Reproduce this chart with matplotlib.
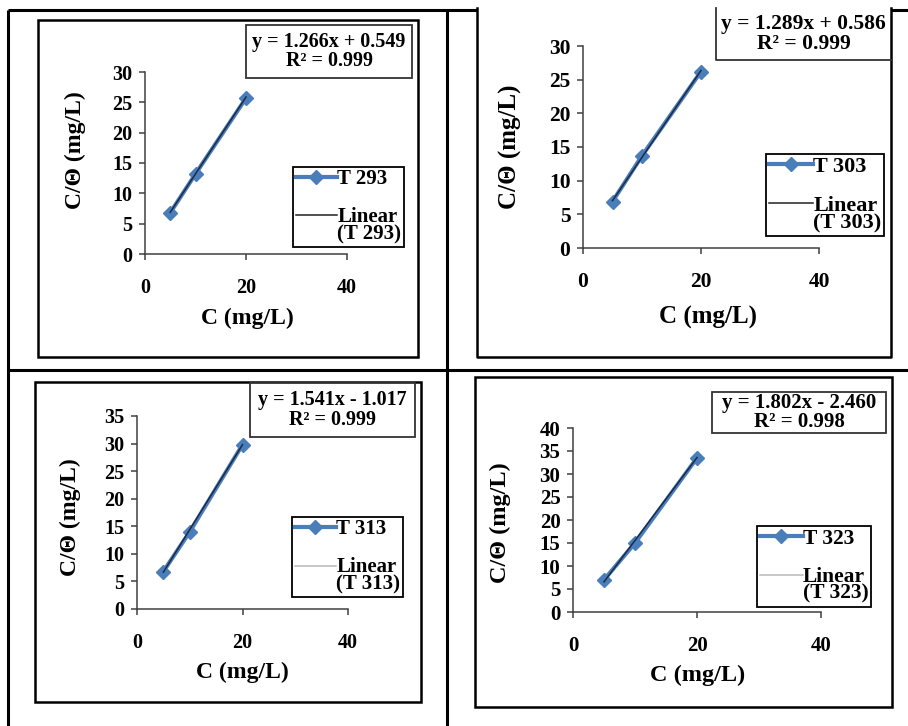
import numpy as np
import matplotlib
matplotlib.use("Agg")
import matplotlib.pyplot as plt
from matplotlib.patches import Rectangle
from matplotlib.legend_handler import HandlerLine2D

plt.rcParams["font.family"] = ["Liberation Serif", "DejaVu Serif"]
plt.rcParams["font.weight"] = "bold"

# data
conc = [5, 10, 20]
series_names = ["T 293", "T 303", "T 313", "T 323"]
ratio_293 = [6.8, 13.2, 25.7]
ratio_303 = [6.9, 13.7, 26.2]
ratio_313 = [6.8, 14.0, 29.8]
ratio_323 = [7.0, 15.0, 33.5]
slopes = [1.266, 1.289, 1.541, 1.802]
intercepts = [0.549, 0.586, -1.017, -2.460]
r_squared = [0.999, 0.999, 0.999, 0.998]
y_max = [30, 30, 35, 40]
x_ticks = [0, 20, 40]

W, H = 908, 726
SERIES_COLOR = "#4A7EBB"
TREND_COLOR = "#1c2a44"

# layout in pixels (image coords, y down)
LAYOUT = [
    dict(box=(38, 20, 418, 357), plot=(145, 347, 254, 72), eq=(246, 25, 412, 78),
         leg=(293, 167), ylab=(75, 150), xlab=(247, 318), fs=14, top_open=False, trend_leg="#222222"),
    dict(box=(477, 8, 891, 357), plot=(583, 819, 248, 46), eq=(716, 8, 891, 60),
         leg=(766, 154), ylab=(510, 147), xlab=(708, 317), fs=15, top_open=True, trend_leg="#222222"),
    dict(box=(35, 382, 421, 702), plot=(137, 348, 609, 416), eq=(250, 383, 415, 437),
         leg=(292, 517), ylab=(70, 517), xlab=(242, 672), fs=14, top_open=False, trend_leg="#b8b8b8"),
    dict(box=(475, 377, 892, 707), plot=(573, 821, 612, 428), eq=(712, 392, 886, 433),
         leg=(757, 526), ylab=(500, 523), xlab=(698, 675), fs=14.5, top_open=False, trend_leg="#b8b8b8"),
]


class RaisedLine(HandlerLine2D):
    """legend line lifted to the first row of a two-line label"""
    def __init__(self, shift, **kw):
        super().__init__(**kw)
        self.shift = shift

    def create_artists(self, legend, orig_handle, xdescent, ydescent, width, height, fontsize, trans):
        arts = super().create_artists(legend, orig_handle, xdescent, ydescent, width, height, fontsize, trans)
        for a in arts:
            a.set_ydata(np.asarray(a.get_ydata()) + self.shift * fontsize)
        return arts


fig = plt.figure(figsize=(W / 100, H / 100), dpi=100)
bg = fig.add_axes([0, 0, 1, 1], zorder=0)
bg.set_xlim(0, W)
bg.set_ylim(H, 0)
bg.axis("off")

# table grid
for xs, ys in [((8, 8), (10, H)), ((8, W), (10, 10)), ((447, 447), (10, H)), ((8, W), (370, 370))]:
    bg.plot(xs, ys, color="black", lw=2.2, solid_capstyle="butt")

all_ratios = [ratio_293, ratio_303, ratio_313, ratio_323]

for i, lay in enumerate(LAYOUT):
    x1, y1, x2, y2 = lay["box"]
    bg.add_patch(Rectangle((x1, y1), x2 - x1, y2 - y1, facecolor="white", edgecolor="none", zorder=2))
    if lay["top_open"]:
        bg.plot([x1, x1, x2, x2], [y1, y2, y2, y1], color="black", lw=1.8, zorder=3)
    else:
        bg.add_patch(Rectangle((x1, y1), x2 - x1, y2 - y1, facecolor="none", edgecolor="black", lw=1.8, zorder=3))

    # equation box
    ex1, ey1, ex2, ey2 = lay["eq"]
    if lay["top_open"]:
        bg.plot([ex1, ex1, ex2], [ey1, ey2, ey2], color="#333333", lw=1.3, zorder=3)
    else:
        bg.add_patch(Rectangle((ex1, ey1), ex2 - ex1, ey2 - ey1, facecolor="white", edgecolor="#333333", lw=1.3, zorder=3))
    m, b = slopes[i], intercepts[i]
    sign = "+" if b >= 0 else "-"
    eq_txt = f"y = {m:.3f}x {sign} {abs(b):.3f}\nR² = {r_squared[i]:.3f}"
    bg.text((ex1 + ex2) / 2, (ey1 + ey2) / 2, eq_txt, ha="center", va="center",
            fontsize=lay["fs"] + 0.5, fontweight="bold", linespacing=0.95, zorder=4)

    bg.text(lay["ylab"][0], lay["ylab"][1], "C/Θ (mg/L)", rotation=90, ha="center", va="center",
            fontsize=lay["fs"] + 3, fontweight="bold", zorder=4)
    bg.text(lay["xlab"][0], lay["xlab"][1], "C (mg/L)", ha="center", va="center",
            fontsize=lay["fs"] + 3, fontweight="bold", zorder=4)

    px0, px40, py0, pytop = lay["plot"]
    ax = fig.add_axes([px0 / W, 1 - py0 / H, (px40 - px0) / W, (py0 - pytop) / H], zorder=5)
    ax.patch.set_alpha(0)
    ax.set_xlim(0, 40)
    ax.set_ylim(0, y_max[i])
    ax.set_xticks(x_ticks)
    ax.set_yticks(np.arange(0, y_max[i] + 1, 5))
    for s in ["top", "right"]:
        ax.spines[s].set_visible(False)
    for s in ["left", "bottom"]:
        ax.spines[s].set_color("#404040")
        ax.spines[s].set_linewidth(1.1)
    ax.tick_params(axis="both", direction="out", length=4, width=1.1, color="#404040",
                   labelsize=lay["fs"] + 0.5)
    ax.tick_params(axis="y", pad=5)
    ax.tick_params(axis="x", pad=13)
    for lab in ax.get_xticklabels() + ax.get_yticklabels():
        lab.set_fontweight("bold")

    data_line, = ax.plot(conc, all_ratios[i], color=SERIES_COLOR, lw=3, marker="D", markersize=7,
                         label=series_names[i], clip_on=False)
    xfit = np.array([conc[0], conc[-1]])
    trend_line, = ax.plot(xfit, m * xfit + b, color=TREND_COLOR, lw=1.1,
                          label=f"Linear\n({series_names[i]})", clip_on=False)

    leg = ax.legend(loc="upper left", bbox_to_anchor=(lay["leg"][0] / W, 1 - lay["leg"][1] / H),
                    bbox_transform=fig.transFigure, frameon=True, fancybox=False,
                    edgecolor="black", framealpha=1,
                    handlelength=2.0, handletextpad=0.0, borderpad=0.12, labelspacing=0.85,
                    borderaxespad=0, numpoints=1, prop={"weight": "bold", "size": lay["fs"] + 1},
                    handler_map={trend_line: RaisedLine(0.5)})
    leg.get_frame().set_linewidth(1.3)
    for t in leg.get_texts():
        t.set_linespacing(0.8)
    leg.legend_handles[1].set_color(lay["trend_leg"])

fig.savefig("out.png", dpi=100)
